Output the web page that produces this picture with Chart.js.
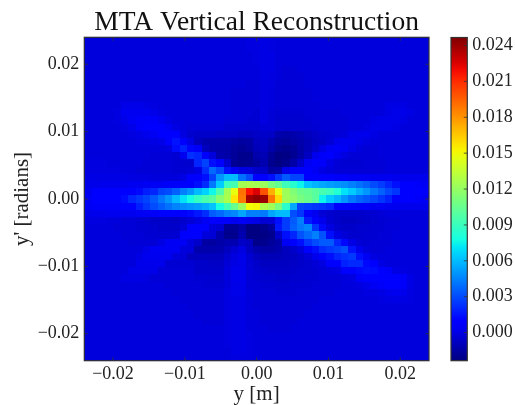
<!DOCTYPE html>
<html>
<head>
<meta charset="utf-8">
<script src="https://cdn.jsdelivr.net/npm/chart.js@4"></script>
<style>
    html,body{margin:0;padding:0;background:#fff;overflow:hidden}
    canvas{position:absolute;left:0;top:0}
</style>
</head>
<body>
<div style="position:absolute;left:0;top:0;width:515px;height:405px"><canvas id="heatChart" width="515" height="405"></canvas></div>
<div style="position:absolute;left:0;top:0;width:515px;height:405px"><canvas id="barChart" width="515" height="405"></canvas></div>
<script>
const xTicks = [-0.02,-0.01,0,0.01,0.02];
const yTicks = [-0.02,-0.01,0,0.01,0.02];
const colorTicks = [0,0.003,0.006,0.009,0.012,0.015,0.018,0.021,0.024];
const axisRange = [-0.024,0.024];
const colorRange = [-0.00235,0.02467];
// top row first, in units of 1e-4
const valueUnit = 0.0001;
const rows = [
[-2,-2,-2,-2,-2,-2,-2,-2,-2,-2,-2,-2,-2,-2,-2,-2,-2,-2,-2,-2,-2,-2,-1,-1,0,-1,-2,-2,-2,-2,-2,-2,-2,-2,-2,-2,-2,-2,-2,-2,-2,-2,-2,-2,-2,-2,-2],
[-2,-2,-2,-2,-2,-2,-2,-2,-2,-2,-2,-2,-2,-2,-2,-2,-2,-2,-2,-2,-2,-2,-1,-1,0,-1,-2,-2,-2,-2,-2,-2,-2,-2,-2,-2,-2,-2,-2,-2,-2,-2,-2,-2,-2,-2,-2],
[-2,-2,-2,-2,-2,-2,-2,-2,-2,-2,-2,-2,-2,-2,-2,-2,-2,-2,-2,-2,-2,-2,-2,-1,0,0,-2,-2,-2,-2,-2,-2,-2,-2,-2,-2,-2,-2,-2,-2,-2,-2,-2,-2,-2,-2,-2],
[-2,-2,-2,-2,-2,-2,-2,-2,-2,-2,-2,-2,-2,-2,-2,-2,-2,-2,-2,-2,-2,-2,-2,-1,0,0,-2,-2,-2,-2,-2,-2,-2,-2,-2,-2,-2,-2,-2,-2,-2,-2,-2,-2,-2,-2,-2],
[-2,-2,-2,-2,-2,-2,-2,-2,-2,-2,-2,-2,-2,-2,-2,-2,-2,-2,-2,-2,-2,-2,-2,-2,0,0,-2,-3,-3,-2,-2,-2,-2,-2,-2,-2,-2,-2,-2,-2,-2,-2,-2,-2,-2,-2,-2],
[-2,-2,-2,-2,-2,-2,-2,-2,-2,-2,-2,-2,-2,-2,-2,-2,-2,-2,-2,-2,-2,-2,-2,-2,0,-1,-2,-3,-3,-3,-2,-2,-2,-2,-2,-2,-2,-2,-2,-2,-2,-2,-2,-2,-2,-2,-2],
[-2,-2,-2,-2,-2,-2,-2,-2,-2,-2,-2,-2,-2,-2,-2,-2,-2,-2,-2,-2,-2,-2,-3,-3,-1,-1,-3,-3,-3,-3,-2,-2,-2,-2,-2,-2,-2,-2,-2,-2,-2,-2,-2,-2,-2,-2,-2],
[-2,-2,-2,-2,-2,-2,-2,-2,-2,-2,-2,-2,-2,-2,-2,-2,-2,-2,-2,-2,-3,-3,-3,-3,-1,-2,-3,-3,-3,-3,-3,-2,-2,-2,-2,-2,-2,-2,-2,-2,-2,-2,-2,-2,-2,-2,-2],
[-2,-2,-2,-2,-2,-2,-2,-2,-2,-2,-2,-2,-2,-2,-2,-2,-2,-2,-2,-2,-3,-3,-3,-3,-1,-2,-3,-3,-3,-3,-3,-2,-2,-2,-2,-2,-2,-2,-2,-2,-2,-2,-2,-2,-2,-2,-2],
[-2,-2,-2,-2,-2,1,1,1,0,-1,-2,-2,-2,-2,-2,-2,-2,-2,-2,-2,-3,-3,-3,-3,-1,-2,-3,-3,-3,-3,-3,-3,-2,-2,-2,-2,-2,-2,-2,-2,-2,0,0,0,-2,-2,-2],
[-2,-2,-2,-2,-1,3,3,3,3,1,-1,-2,-2,-2,-2,-2,-2,-2,-2,-2,-3,-3,-3,-4,-1,-3,-4,-4,-4,-4,-3,-3,-3,-3,-3,-2,-2,-2,-2,-2,-2,0,1,1,0,-2,-2],
[-2,-2,-2,-2,-1,1,4,5,5,5,3,0,-2,-2,-2,-2,-2,-2,-2,-3,-3,-3,-4,-4,-1,-3,-5,-5,-5,-5,-4,-3,-3,-3,-3,-3,-2,-2,-2,0,1,1,1,0,-2,-2,-2],
[-2,-2,-2,-2,-2,-1,1,5,6,6,6,4,0,-2,-3,-3,-3,-3,-3,-5,-5,-5,-5,-5,-3,-3,-5,-5,-5,-5,-5,-4,-3,-3,-3,-3,-2,-2,-1,1,1,1,0,-2,-2,-2,-2],
[-2,-2,-2,-2,-2,-2,-1,0,2,4,6,10,7,-1,-5,-6,-6,-6,-7,-7,-7,-9,-9,-7,-6,-7,-13,-14,-13,-11,-9,-7,-5,-4,-3,-2,1,2,2,0,-2,-2,-2,-2,-2,-2,-2],
[-2,-2,-2,-2,-2,-2,-2,-1,-1,0,1,8,15,9,0,-9,-12,-13,-13,-13,-15,-16,-15,-9,-8,-12,-16,-17,-15,-13,-10,-8,-6,-3,2,3,3,1,-1,-2,-2,-2,-2,-2,-2,-2,-2],
[-2,-2,-2,-2,-2,-2,-2,-2,-2,-2,-2,-1,13,19,11,5,-9,-13,-14,-14,-17,-18,-16,-10,-9,-14,-19,-20,-18,-14,-10,-6,0,4,5,4,1,-2,-3,-3,-2,-2,-2,-2,-2,-2,-2],
[-2,-2,-2,-2,-2,-2,-2,-2,-2,-3,-3,-3,-4,3,23,20,6,-2,-13,-14,-17,-20,-20,-13,-11,-18,-23,-22,-19,-14,-8,2,5,6,3,-1,-3,-3,-3,-3,-2,-2,-2,-2,-2,-2,-2],
[-1,-1,-1,-2,-2,-2,-2,-2,-3,-3,-3,-3,-4,-5,-5,20,28,14,6,-5,-18,-20,-19,-16,-12,-20,-23,-20,-14,-6,4,6,5,0,-3,-4,-4,-4,-3,-3,-3,-2,-2,-2,-2,-2,-2],
[-1,-1,-1,-1,-1,-2,-2,-3,-3,-3,-3,-3,-4,-4,-3,0,22,38,30,14,4,0,-2,-6,-7,-16,-14,1,6,7,6,4,0,-2,-3,-3,-3,-3,-3,-3,-3,-2,-2,-2,-2,-2,-2],
[0,0,0,0,0,0,-1,-1,-1,-2,-2,-2,-2,0,6,8,14,28,50,60,60,40,30,10,7,14,24,34,28,28,7,6,6,6,5,5,4,4,4,3,3,3,2,2,2,2,2],
[1,1,2,2,2,2,3,3,4,4,4,5,5,6,10,14,22,42,64,90,94,125,127,125,122,110,104,91,84,75,62,58,55,52,50,48,44,40,36,30,26,20,14,8,6,5,4],
[3,6,7,7,7,8,9,12,18,20,28,30,36,44,50,60,66,76,96,125,148,190,217,225,199,172,147,123,113,106,104,100,94,90,82,70,64,56,50,42,36,29,24,8,7,6,5],
[4,6,6,7,7,13,20,24,28,34,42,50,60,70,78,88,95,100,116,127,157,188,238,243,240,188,160,123,117,110,106,100,75,64,58,50,42,37,33,29,24,19,8,7,6,5,4],
[4,5,5,5,5,8,10,18,24,30,35,40,45,48,50,52,56,62,78,92,105,122,150,152,128,123,110,85,55,28,26,24,23,20,8,6,6,5,5,4,4,3,3,2,2,2,2],
[1,2,2,3,3,3,3,4,4,5,6,7,8,10,12,16,22,34,38,44,46,54,44,44,42,54,60,60,31,24,8,3,-3,-5,-6,-6,-6,-6,-5,-4,-3,-2,-2,-2,-2,-2,-2],
[-1,-1,-1,-2,-2,-3,-3,-4,-5,-6,-6,-6,-7,-5,-3,0,4,8,10,6,3,4,2,0,-4,-3,14,26,34,44,17,8,2,-4,-6,-8,-8,-7,-6,-5,-4,-3,-3,-2,-2,-2,-2],
[-2,-2,-2,-2,-3,-3,-3,-4,-4,-5,-6,-6,-6,-3,6,6,6,-2,-4,-18,-18,-15,-23,-23,-20,-16,16,26,36,42,46,24,12,-1,-5,-6,-6,-5,-5,-4,-4,-3,-3,-2,-2,-2,-2],
[-2,-2,-2,-2,-2,-3,-3,-3,-4,-4,-5,-5,-4,6,6,6,-2,-3,-13,-20,-20,-12,-23,-23,-22,-20,-6,14,20,32,38,44,32,14,0,-3,-5,-5,-4,-4,-3,-3,-2,-2,-2,-2,-2],
[-2,-2,-2,-2,-2,-2,-3,-3,-3,-3,0,4,4,4,-2,-6,-15,-16,-14,-12,-12,-7,-9,-21,-20,-17,-14,4,8,14,24,30,34,34,20,12,0,-3,-4,-3,-3,-3,-2,-2,-2,-2,-2],
[-2,-2,-2,-2,-2,-2,-2,-2,1,4,4,4,4,-2,-2,-13,-13,-13,-12,-9,-4,-1,-8,-13,-15,-15,-13,-9,-6,-2,10,14,22,25,28,32,15,2,-2,-3,-3,-2,-2,-2,-2,-2,-2],
[-2,-2,-2,-2,-2,-2,-2,0,3,3,3,3,-2,-3,-9,-9,-9,-9,-9,-5,-1,1,-4,-9,-10,-10,-10,-9,-8,-6,-3,2,8,14,20,23,25,14,4,-1,-2,-2,-2,-2,-2,-2,-2],
[-2,-2,-2,-2,-2,-2,-2,2,2,2,2,-4,-4,-4,-4,-6,-6,-7,-7,-3,0,1,-3,-6,-8,-8,-8,-8,-7,-6,-5,-3,-1,6,10,19,21,21,12,6,0,-2,-2,-2,-2,-2,-2],
[-2,-2,-2,-2,-2,-2,1,1,1,1,-3,-3,-3,-3,-3,-6,-6,-6,-6,-2,2,2,-3,-5,-6,-7,-7,-7,-6,-5,-5,-4,-3,-2,-1,7,10,12,14,13,9,5,0,-1,-2,-2,-2],
[-2,-2,-2,-2,-2,0,0,0,-1,-3,-3,-3,-3,-3,-3,-4,-4,-5,-5,-2,2,2,-3,-4,-5,-5,-6,-6,-5,-5,-4,-4,-3,-3,-3,-2,-1,5,7,9,9,8,6,5,0,-2,-2],
[-2,-2,-2,-2,-2,-2,-2,-2,-2,-2,-2,-3,-3,-3,-3,-3,-4,-4,-4,-2,1,1,-3,-3,-4,-4,-5,-5,-4,-4,-4,-3,-3,-3,-3,-2,-2,-1,1,4,5,6,6,5,0,-2,-2],
[-2,-2,-2,-2,-2,-2,-2,-2,-2,-2,-2,-2,-3,-3,-3,-3,-3,-3,-3,-1,1,1,-2,-3,-3,-3,-4,-4,-4,-3,-3,-3,-3,-3,-2,-2,-2,-2,-1,-1,0,2,3,2,-1,-2,-2],
[-2,-2,-2,-2,-2,-2,-2,-2,-2,-2,-2,-2,-2,-3,-3,-3,-3,-3,-3,-1,0,0,-2,-3,-3,-3,-3,-3,-3,-3,-3,-3,-2,-2,-2,-2,-2,-2,-2,-2,-1,0,0,0,-1,-2,-2],
[-2,-2,-2,-2,-2,-2,-2,-2,-2,-2,-2,-2,-2,-2,-3,-3,-3,-3,-3,-1,0,0,-2,-3,-3,-3,-3,-3,-3,-3,-3,-2,-2,-2,-2,-2,-2,-2,-2,-2,-2,-2,-2,-2,-2,-2,-2],
[-2,-2,-2,-2,-2,-2,-2,-2,-2,-2,-2,-2,-2,-2,-2,-3,-3,-3,-3,-1,0,0,-2,-2,-3,-3,-3,-3,-3,-3,-2,-2,-2,-2,-2,-2,-2,-2,-2,-2,-2,-2,-2,-2,-2,-2,-2],
[-2,-2,-2,-2,-2,-2,-2,-2,-2,-2,-2,-2,-2,-2,-2,-2,-3,-3,-3,-1,0,0,-2,-2,-3,-3,-3,-3,-3,-2,-2,-2,-2,-2,-2,-2,-2,-2,-2,-2,-2,-2,-2,-2,-2,-2,-2],
[-2,-2,-2,-2,-2,-2,-2,-2,-2,-2,-2,-2,-2,-2,-2,-2,-2,-2,-2,-1,0,0,-2,-2,-2,-3,-3,-3,-2,-2,-2,-2,-2,-2,-2,-2,-2,-2,-2,-2,-2,-2,-2,-2,-2,-2,-2],
[-2,-2,-2,-2,-2,-2,-2,-2,-2,-2,-2,-2,-2,-2,-2,-2,-2,-2,-2,-1,0,0,-1,-2,-2,-2,-2,-2,-2,-2,-2,-2,-2,-2,-2,-2,-2,-2,-2,-2,-2,-2,-2,-2,-2,-2,-2],
[-2,-2,-2,-2,-2,-2,-2,-2,-2,-2,-2,-2,-2,-2,-2,-2,-2,-2,-2,-1,0,0,-1,-2,-2,-2,-2,-2,-2,-2,-2,-2,-2,-2,-2,-2,-2,-2,-2,-2,-2,-2,-2,-2,-2,-2,-2],
[-2,-2,-2,-2,-2,-2,-2,-2,-2,-2,-2,-2,-2,-2,-2,-2,-2,-2,-2,-2,0,0,-1,-2,-2,-2,-2,-2,-2,-2,-2,-2,-2,-2,-2,-2,-2,-2,-2,-2,-2,-2,-2,-2,-2,-2,-2],
[-2,-2,-2,-2,-2,-2,-2,-2,-2,-2,-2,-2,-2,-2,-2,-2,-2,-2,-2,-2,-1,-1,-1,-2,-2,-2,-2,-2,-2,-2,-2,-2,-2,-2,-2,-2,-2,-2,-2,-2,-2,-2,-2,-2,-2,-2,-2]
];

const serif = '"Liberation Serif"';
const inkColor = '#222';
Chart.defaults.font.family = serif;
Chart.defaults.color = inkColor;
Chart.defaults.animation = false;

//================================== FUNCTION =====================
function segment(points,f){
    for(let i = 1;i<points.length;i++){
        if(f<=points[i][0]){
            let a = points[i-1],b = points[i];
            return a[1]+(b[1]-a[1])*(f-a[0])/(b[0]-a[0]);
        }
    }
    return points[points.length-1][1];
}
// matplotlib jet
function jet(f){
    f = Math.min(1,Math.max(0,f));
    let r = segment([[0,0],[0.35,0],[0.66,1],[0.89,1],[1,0.5]],f),
        g = segment([[0,0],[0.125,0],[0.375,1],[0.64,1],[0.91,0],[1,0]],f),
        b = segment([[0,0.5],[0.11,1],[0.34,1],[0.65,0],[1,0]],f);
    return `rgb(${Math.round(r*255)},${Math.round(g*255)},${Math.round(b*255)})`;
}
function toColor(v){
    return jet((v-colorRange[0])/(colorRange[1]-colorRange[0]));
}
function tickText(digits){
    return (v)=>{
        let s = Math.abs(v).toFixed(digits);
        return v<0?'\u2212'+s:s;
    };
}
function setTicks(list){
    return (scale)=>{
        scale.ticks = list.map(v=>({value:v}));
    };
}

// frame and inward ticks, the way the original axes have them
const framePlugin = {
    id:'frame',
    afterDatasetsDraw(chart,args,opts){
        const ctx = chart.ctx,area = chart.chartArea,len = 3.5;
        ctx.save();
        ctx.strokeStyle = '#333';
        ctx.lineWidth = 0.8;
        ctx.beginPath();
        if(opts.xTicks){
            chart.scales.x.ticks.forEach(t=>{
                let px = chart.scales.x.getPixelForValue(t.value);
                ctx.moveTo(px,area.bottom);ctx.lineTo(px,area.bottom-len);
                ctx.moveTo(px,area.top);ctx.lineTo(px,area.top+len);
            });
        }
        chart.scales.y.ticks.forEach(t=>{
            let py = chart.scales.y.getPixelForValue(t.value);
            if(opts.xTicks){
                ctx.moveTo(area.left,py);ctx.lineTo(area.left+len,py);
            }
            ctx.moveTo(area.right,py);ctx.lineTo(area.right-len,py);
        });
        ctx.stroke();
        ctx.lineWidth = 1.2;
        ctx.strokeRect(area.left,area.top,area.right-area.left,area.bottom-area.top);
        ctx.restore();
    }
};

//1.Heat map
const colCount = rows[0].length,rowCount = rows.length;
const cellW = (axisRange[1]-axisRange[0])/colCount,cellH = (axisRange[1]-axisRange[0])/rowCount;
const cells = [],cellColors = [];
rows.forEach((row,j)=>{
    row.forEach((v,i)=>{
        cells.push({
            x:axisRange[0]+cellW*(i+0.5),
            y:axisRange[1]-cellH*(j+0.5)
        });
        cellColors.push(toColor(v*valueUnit));
    });
});

// the points keep radius 0, each one is painted as a cell snapped to whole pixels
const cellPlugin = {
    id:'cellPaint',
    beforeDatasetsDraw(chart){
        const ctx = chart.ctx,sx = chart.scales.x,sy = chart.scales.y;
        ctx.save();
        cells.forEach((c,n)=>{
            let l = Math.round(sx.getPixelForValue(c.x-cellW/2)),
                r = Math.round(sx.getPixelForValue(c.x+cellW/2)),
                t = Math.round(sy.getPixelForValue(c.y+cellH/2)),
                b = Math.round(sy.getPixelForValue(c.y-cellH/2));
            ctx.fillStyle = cellColors[n];
            ctx.fillRect(l,t,r-l,b-t);
        });
        ctx.restore();
    }
};

new Chart(document.getElementById('heatChart').getContext('2d'),{
    type:'scatter',
    data:{
        datasets:[{
            data:cells,
            pointRadius:0
        }]
    },
    plugins:[cellPlugin,framePlugin],
    options:{
        responsive:false,
        events:[],
        layout:{padding:{right:86}},
        plugins:{
            legend:{display:false},
            tooltip:{enabled:false},
            frame:{xTicks:true},
            title:{
                display:true,
                fullSize:false,
                text:'MTA Vertical Reconstruction',
                font:{family:serif,size:27.5,weight:'normal',lineHeight:1},
                color:'#111',
                padding:{top:9,bottom:0.8}
            }
        },
        scales:{
            x:{
                type:'linear',
                min:axisRange[0],
                max:axisRange[1],
                afterBuildTicks:setTicks(xTicks),
                afterFit(scale){scale.height = 44.3;},
                grid:{display:false,drawTicks:false},
                border:{display:false},
                ticks:{font:{size:18},padding:3,maxRotation:0,callback:tickText(2)},
                title:{display:true,text:'y [m]',font:{size:21,lineHeight:1},padding:{top:0,bottom:0}}
            },
            y:{
                type:'linear',
                min:axisRange[0],
                max:axisRange[1],
                afterBuildTicks:setTicks(yTicks),
                afterFit(scale){scale.width = 84.3;},
                grid:{display:false,drawTicks:false},
                border:{display:false},
                ticks:{font:{size:18},padding:5,callback:tickText(2)},
                title:{display:true,text:"y' [radians]",font:{size:21,lineHeight:1},padding:{top:11.5,bottom:0}}
            }
        }
    }
});

//2.Colour bar
new Chart(document.getElementById('barChart').getContext('2d'),{
    type:'bar',
    data:{
        labels:[''],
        datasets:[{
            data:[colorRange],
            barPercentage:1,
            categoryPercentage:1,
            backgroundColor:(c)=>{
                const area = c.chart.chartArea;
                if(!area) return '#00f';
                const grad = c.chart.ctx.createLinearGradient(0,area.bottom,0,area.top);
                for(let i = 0;i<=40;i++){
                    grad.addColorStop(i/40,jet(i/40));
                }
                return grad;
            }
        }]
    },
    plugins:[framePlugin],
    options:{
        responsive:false,
        events:[],
        layout:{padding:{left:451,top:37.5,bottom:44.3}},
        plugins:{
            legend:{display:false},
            tooltip:{enabled:false},
            frame:{xTicks:false}
        },
        scales:{
            x:{display:false},
            y:{
                position:'right',
                min:colorRange[0],
                max:colorRange[1],
                afterBuildTicks:setTicks(colorTicks),
                afterFit(scale){scale.width = 47.7;},
                grid:{display:false,drawTicks:false},
                border:{display:false},
                ticks:{font:{size:18},padding:5,callback:tickText(3)}
            }
        }
    }
});
</script>
</body>
</html>
